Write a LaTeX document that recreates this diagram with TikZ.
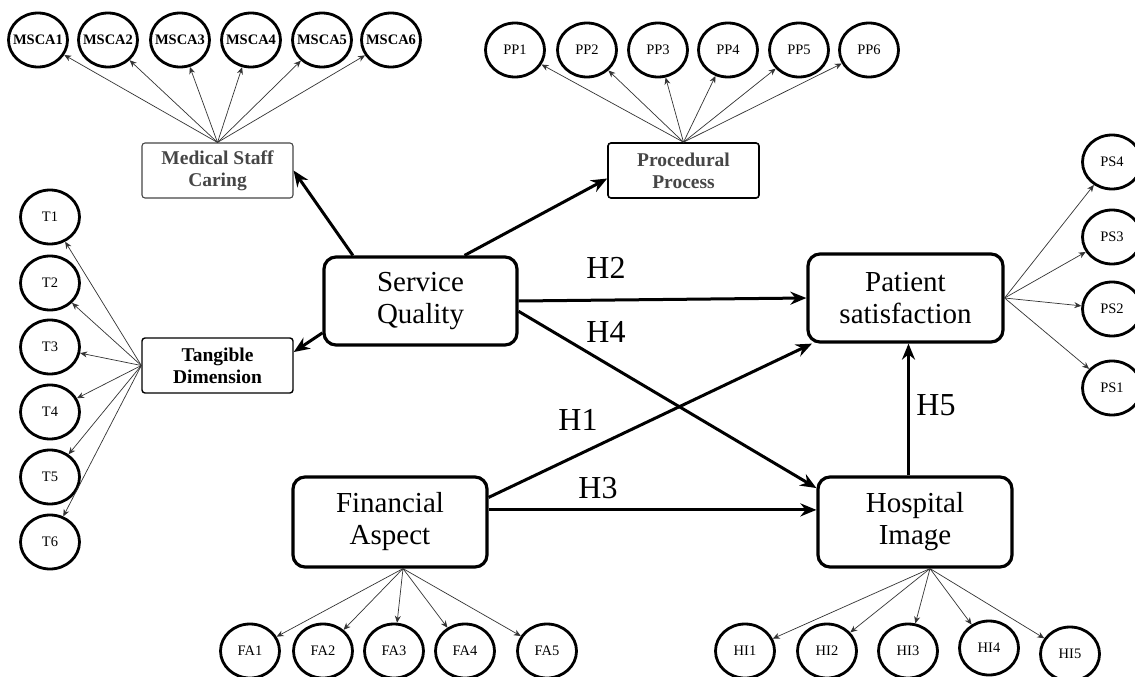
\documentclass[tikz,border=0pt]{standalone}
\usepackage{fontspec}
\setmainfont{Liberation Serif}
\usetikzlibrary{shapes.geometric,arrows.meta}
\definecolor{boxgray}{RGB}{70,70,70}

\tikzset{
  item/.style={draw,ellipse,line width=2.8pt,minimum width=59pt,minimum height=54pt,inner xsep=-14pt,inner ysep=0pt,font=\fontsize{14.5}{16}\selectfont},
  msca/.style={item,font=\bfseries\fontsize{14.5}{16}\selectfont},
  dimbox/.style={draw,rectangle,rounded corners=3pt,line width=1.1pt,minimum width=151pt,minimum height=55pt,align=center,font=\bfseries\fontsize{19.5}{22}\selectfont},
  constr/.style={draw,rectangle,rounded corners=12pt,line width=3.2pt,minimum width=193pt,minimum height=88pt,align=center,font=\fontsize{29}{32}\selectfont},
  load/.style={-{Stealth[length=7pt,width=6pt]},line width=0.7pt,draw=black!80},
  hyp/.style={-{Stealth[length=16pt,width=13pt]},line width=3pt},
  hlabel/.style={font=\fontsize{32}{34}\selectfont}
}

\begin{document}
\begin{tikzpicture}[x=1pt,y=-1pt]
    \fill[white] (0,0) rectangle (1135,677);
    \useasboundingbox (0,0) rectangle (1135,677);
    % main constructs
    \node[constr] (sq) at (420.5,301) {Service\\Quality};
    \node[constr,minimum width=195pt] (ps) at (905.5,298) {Patient\\satisfaction};
    \node[constr,minimum width=194pt,minimum height=90pt] (fa) at (390,522) {Financial\\Aspect};
    \node[constr,minimum width=194pt,minimum height=90pt] (hi) at (915,522) {Hospital\\Image};
    % dimensions of service quality
    \node[dimbox,text=boxgray,draw=boxgray] (msc) at (217.5,170.5) {Medical Staff\\Caring};
    \node[dimbox,text=boxgray,line width=1.6pt] (pp) at (683.5,170.5) {Procedural\\Process};
    \node[dimbox,line width=1.4pt] (td) at (217.5,365.5) {Tangible\\Dimension};
    % indicators
    \node[msca] (msca1) at (38,40) {MSCA1};
    \node[msca] (msca2) at (108,40) {MSCA2};
    \node[msca] (msca3) at (180,40) {MSCA3};
    \node[msca] (msca4) at (251,40) {MSCA4};
    \node[msca] (msca5) at (322,40) {MSCA5};
    \node[msca] (msca6) at (391,40) {MSCA6};
    \node[item] (pp1) at (515,50) {PP1};
    \node[item] (pp2) at (587,50) {PP2};
    \node[item] (pp3) at (658,50) {PP3};
    \node[item] (pp4) at (728,50) {PP4};
    \node[item] (pp5) at (799,50) {PP5};
    \node[item] (pp6) at (869,50) {PP6};
    \node[item] (t1) at (50,217) {T1};
    \node[item] (t2) at (50,283) {T2};
    \node[item] (t3) at (50,347) {T3};
    \node[item] (t4) at (50,412) {T4};
    \node[item] (t5) at (50,477) {T5};
    \node[item] (t6) at (50,542) {T6};
    \node[item] (ps4) at (1112,162) {PS4};
    \node[item] (ps3) at (1112,237) {PS3};
    \node[item] (ps2) at (1112,309) {PS2};
    \node[item] (ps1) at (1112,388) {PS1};
    \node[item] (fa1) at (250,651) {FA1};
    \node[item] (fa2) at (323,651) {FA2};
    \node[item] (fa3) at (394,651) {FA3};
    \node[item] (fa4) at (465,651) {FA4};
    \node[item] (fa5) at (547,651) {FA5};
    \node[item] (hi1) at (745,651) {HI1};
    \node[item] (hi2) at (827,651) {HI2};
    \node[item] (hi3) at (908,651) {HI3};
    \node[item] (hi4) at (989,648) {HI4};
    \node[item] (hi5) at (1070,654) {HI5};
    % loadings
    \draw[load] (msc.north) -- (msca1);
    \draw[load] (msc.north) -- (msca2);
    \draw[load] (msc.north) -- (msca3);
    \draw[load] (msc.north) -- (msca4);
    \draw[load] (msc.north) -- (msca5);
    \draw[load] (msc.north) -- (msca6);
    \draw[load] (pp.north) -- (pp1);
    \draw[load] (pp.north) -- (pp2);
    \draw[load] (pp.north) -- (pp3);
    \draw[load] (pp.north) -- (pp4);
    \draw[load] (pp.north) -- (pp5);
    \draw[load] (pp.north) -- (pp6);
    \draw[load] (td.west) -- (t1);
    \draw[load] (td.west) -- (t2);
    \draw[load] (td.west) -- (t3);
    \draw[load] (td.west) -- (t4);
    \draw[load] (td.west) -- (t5);
    \draw[load] (td.west) -- (t6);
    \draw[load] (ps.east) -- (ps4);
    \draw[load] (ps.east) -- (ps3);
    \draw[load] (ps.east) -- (ps2);
    \draw[load] (ps.east) -- (ps1);
    \draw[load] ([xshift=13pt]fa.south) -- (fa1);
    \draw[load] ([xshift=13pt]fa.south) -- (fa2);
    \draw[load] ([xshift=13pt]fa.south) -- (fa3);
    \draw[load] ([xshift=13pt]fa.south) -- (fa4);
    \draw[load] ([xshift=13pt]fa.south) -- (fa5);
    \draw[load] ([xshift=15pt]hi.south) -- (hi1);
    \draw[load] ([xshift=15pt]hi.south) -- (hi2);
    \draw[load] ([xshift=15pt]hi.south) -- (hi3);
    \draw[load] ([xshift=15pt]hi.south) -- (hi4);
    \draw[load] ([xshift=15pt]hi.south) -- (hi5);
    % structural paths
    \draw[hyp] (sq.146) -- (msc.east);
    \draw[hyp] (sq.198) -- (td.10);
    \draw[hyp] (sq.46) -- (pp.186);
    \draw[hyp] (sq.east) -- (ps.west);
    \draw[hyp] (sq.354) -- (hi.161);
    \draw[hyp] (fa.14) -- (ps.206);
    \draw[hyp] (fa.7) -- (hi.173);
    \draw[hyp] ([xshift=3pt]ps.south |- hi.north) -- ([xshift=3pt]ps.south);
    \node[hlabel] (h2) at (606,268) {H2};
    \node[hlabel] (h4) at (606,332) {H4};
    \node[hlabel] (h1) at (578,420) {H1};
    \node[hlabel] (h3) at (598,488) {H3};
    \node[hlabel] (h5) at (936,405) {H5};
\end{tikzpicture}
\end{document}
